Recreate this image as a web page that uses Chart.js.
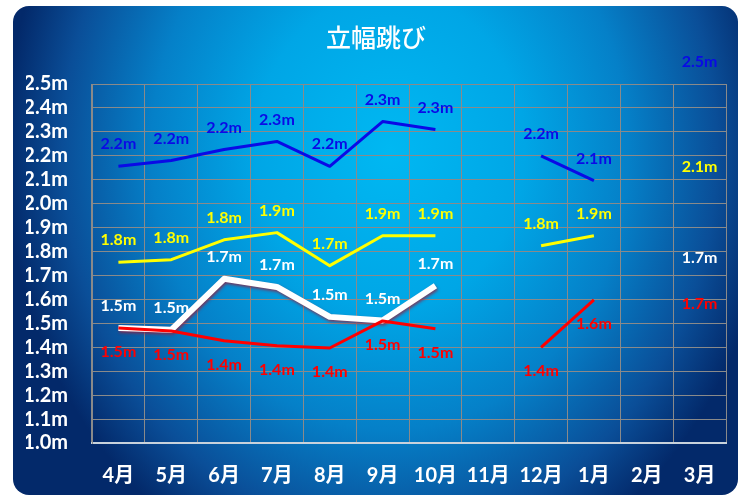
<!DOCTYPE html>
<html>
<head>
<meta charset="utf-8">
<script src="https://cdn.jsdelivr.net/npm/chart.js@4/dist/chart.umd.min.js"></script>
<style>
  html, body { margin: 0; padding: 0; background: #ffffff; }
  #wrap { width: 741px; height: 497px; }
</style>
</head>
<body>
<div id="wrap"><canvas id="c" width="741" height="497"></canvas></div>
<script>
// Months of the school year (April to March)
const months = ['4月', '5月', '6月', '7月', '8月', '9月', '10月', '11月', '12月', '1月', '2月', '3月'];

// Standing long jump records (metres); null = no measurement that month
const blueJump   = [2.156, 2.18, 2.226, 2.26, 2.156, 2.343, 2.31, null, 2.20, 2.096, null, 2.50];
const yellowJump = [1.755, 1.766, 1.849, 1.879, 1.741, 1.866, 1.866, null, 1.824, 1.866, null, 2.06];
const whiteJump  = [1.48, 1.473, 1.686, 1.652, 1.527, 1.512, 1.657, null, null, null, null, 1.68];
const redJump    = [1.48, 1.468, 1.427, 1.406, 1.397, 1.51, 1.477, null, 1.40, 1.598, null, 1.68];

// Y axis range and step
const yMin = 1.0, yMax = 2.5, yStep = 0.1;

const FONT = 'Lato, "Noto Sans CJK JP", sans-serif';
const fmt = v => v.toFixed(1) + 'm';

// Rounded panel with a blue radial gradient behind everything
const panelPlugin = {
  id: 'panel',
  beforeDraw(chart) {
    const ctx = chart.ctx;
    ctx.save();
    ctx.fillStyle = '#ffffff';
    ctx.fillRect(0, 0, chart.width, chart.height);
    ctx.beginPath();
    ctx.roundRect(13, 6, 725, 489, 16);
    ctx.clip();
    ctx.translate(390, 150);
    ctx.scale(1, 1.17);
    const g = ctx.createRadialGradient(0, 0, 0, 0, 0, 385);
    g.addColorStop(0.00, '#00b8f2');
    g.addColorStop(0.35, '#00a6e6');
    g.addColorStop(0.62, '#0580c8');
    g.addColorStop(0.85, '#0a4e98');
    g.addColorStop(1.00, '#03296a');
    ctx.fillStyle = g;
    ctx.fillRect(-600, -600, 1200, 1200);
    ctx.restore();
  }
};

// Soft drop shadow under lines that ask for one
const shadowPlugin = {
  id: 'lineShadow',
  beforeDatasetDraw(chart, args) {
    const ds = chart.data.datasets[args.index];
    if (!ds.shadowColor) return;
    const ctx = chart.ctx;
    ctx.save();
    ctx.shadowColor = ds.shadowColor;
    ctx.shadowBlur = 3;
    ctx.shadowOffsetX = 1;
    ctx.shadowOffsetY = 2;
  },
  afterDatasetDraw(chart, args) {
    if (chart.data.datasets[args.index].shadowColor) chart.ctx.restore();
  }
};

// Value labels next to each point
const valueLabelPlugin = {
  id: 'valueLabels',
  afterDatasetsDraw(chart) {
    const ctx = chart.ctx;
    ctx.save();
    ctx.font = 'bold 16px ' + FONT;
    ctx.textAlign = 'center';
    ctx.textBaseline = 'middle';
    chart.data.datasets.forEach((ds, i) => {
      const meta = chart.getDatasetMeta(i);
      meta.data.forEach((pt, j) => {
        const v = ds.data[j];
        if (v === null || v === undefined) return;
        ctx.fillStyle = ds.labelColor;
        ctx.fillText(fmt(v), pt.x, pt.y + ds.labelShift);
      });
    });
    ctx.restore();
  }
};

const lineDefaults = { pointRadius: 0, pointHoverRadius: 0, tension: 0, spanGaps: false, fill: false, borderCapStyle: 'butt', borderJoinStyle: 'round' };

new Chart(document.getElementById('c'), {
  type: 'line',
  data: {
    labels: months,
    datasets: [
      Object.assign({ label: 'A', data: blueJump,   borderColor: '#0a0ae6', borderWidth: 3, labelColor: '#0a0ae6', labelShift: -22, order: 2 }, lineDefaults),
      Object.assign({ label: 'B', data: yellowJump, borderColor: '#ffff00', borderWidth: 3, labelColor: '#ffff00', labelShift: -22, order: 1 }, lineDefaults),
      Object.assign({ label: 'C', data: whiteJump,  borderColor: '#ffffff', borderWidth: 6, labelColor: '#ffffff', labelShift: -22, order: 3, shadowColor: 'rgba(150,30,60,0.75)' }, lineDefaults),
      Object.assign({ label: 'D', data: redJump,    borderColor: '#ff0000', borderWidth: 3, labelColor: '#ff0000', labelShift: 24, order: 0 }, lineDefaults)
    ]
  },
  options: {
    responsive: false,
    animation: false,
    events: [],
    layout: { padding: { left: 26, right: 15, top: 0, bottom: 0 } },
    plugins: {
      legend: { display: false },
      tooltip: { enabled: false },
      title: {
        display: true,
        text: '立幅跳び',
        color: '#ffffff',
        font: { family: '"Noto Sans CJK JP", sans-serif', size: 25, weight: '500' },
        padding: { top: 22, bottom: 32 }
      }
    },
    scales: {
      x: {
        offset: true,
        grid: { color: '#8a8a8a', lineWidth: 1, offset: true, drawTicks: false },
        border: { color: '#c8d2dc', width: 2 },
        ticks: { color: '#ffffff', font: { family: FONT, size: 20, weight: 'bold' }, padding: 21, maxRotation: 0, autoSkip: false },
        afterFit(scale) { scale.height = 54; }
      },
      y: {
        min: yMin,
        max: yMax,
        grid: { color: '#8a8a8a', lineWidth: 1, drawTicks: false },
        border: { color: '#8a8a8a', width: 1 },
        ticks: { stepSize: yStep, autoSkip: false, color: '#ffffff', font: { family: FONT, size: 20, weight: 'bold' }, padding: 24, callback: v => fmt(v) },
        afterFit(scale) { scale.width = 66; }
      }
    }
  },
  plugins: [panelPlugin, shadowPlugin, valueLabelPlugin]
});
</script>
</body>
</html>
